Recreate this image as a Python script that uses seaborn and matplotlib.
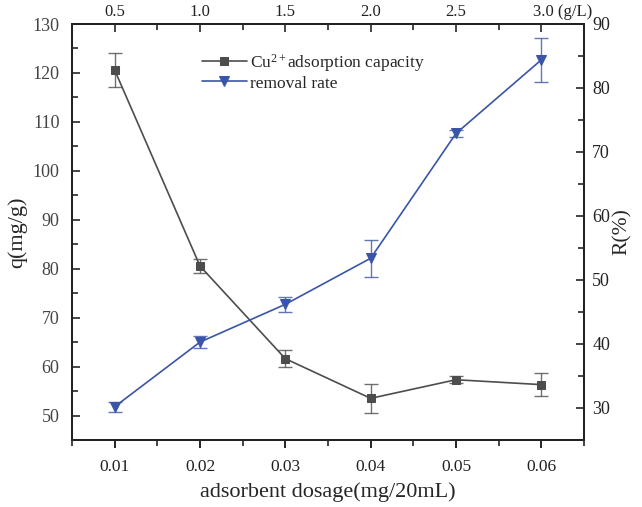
import matplotlib
matplotlib.use("Agg")
import matplotlib.pyplot as plt
import matplotlib.transforms as mtransforms
import seaborn as sns
import pandas as pd
from matplotlib.ticker import MultipleLocator, FixedLocator

dosage = [0.01, 0.02, 0.03, 0.04, 0.05, 0.06]
top_labels = ["0.5", "1.0", "1.5", "2.0", "2.5", "3.0 (g/L)"]
cu_capacity = [120.6, 80.6, 61.7, 53.6, 57.4, 56.4]
cu_err = [3.4, 1.5, 1.7, 2.9, 0.7, 2.3]
removal = [30.2, 40.3, 46.2, 53.4, 72.9, 84.4]
removal_err = [0.8, 0.9, 1.2, 2.9, 0.5, 3.4]

sns.set_theme(style="ticks")
plt.rcParams["font.family"] = ["Liberation Serif", "DejaVu Serif"]
plt.rcParams["mathtext.fontset"] = "custom"
plt.rcParams["mathtext.rm"] = "Liberation Serif"
plt.rcParams["mathtext.it"] = "Liberation Serif:italic"

gray = "#4d4d4d"
blue = "#3a55a8"

df = pd.DataFrame({"dosage": dosage, "q": cu_capacity, "R": removal})

fig = plt.figure(figsize=(6.42, 5.07), dpi=100)
ax = fig.add_axes([72/642, 1-440/507, (584-72)/642, (440-24)/507])
ax2 = ax.twinx()

sns.lineplot(data=df, x="dosage", y="q", ax=ax, color=gray, marker="s",
             markersize=6, markeredgecolor=gray, linewidth=1.2,
             label="Cu$^{2+}$adsorption capacity", legend=False)
ax.errorbar(dosage, cu_capacity, yerr=cu_err, fmt="none", ecolor=gray,
            elinewidth=1.0, capsize=5, capthick=1.0, alpha=0.8)

sns.lineplot(data=df, x="dosage", y="R", ax=ax2, color=blue, marker="v",
             markersize=7, markeredgecolor=blue, linewidth=1.2,
             label="removal rate", legend=False)
ax2.errorbar(dosage, removal, yerr=removal_err, fmt="none", ecolor=blue,
             elinewidth=1.0, capsize=5, capthick=1.0, alpha=0.8)

ax.set_xlim(0.005, 0.065)
ax.set_ylim(45.1, 130)
ax2.set_ylim(25, 90)

ax.xaxis.set_major_locator(FixedLocator(dosage))
ax.xaxis.set_minor_locator(FixedLocator([0.005, 0.015, 0.025, 0.035, 0.045, 0.055, 0.065]))
ax.set_xticklabels([f"{d:.2f}" for d in dosage])
ax.yaxis.set_major_locator(MultipleLocator(10))
ax.yaxis.set_minor_locator(MultipleLocator(5))
ax2.yaxis.set_major_locator(MultipleLocator(10))
ax2.yaxis.set_minor_locator(MultipleLocator(5))

ax.set_xlabel("adsorbent dosage(mg/20mL)", fontsize=16, labelpad=5)
ax.set_ylabel("q(mg/g)", fontsize=16, labelpad=4)
ax2.set_ylabel("R(%)", fontsize=15.5, labelpad=2)

for a in (ax, ax2):
    for s in a.spines.values():
        s.set_linewidth(1.3)
        s.set_color("black")
        s.set_visible(True)

ax.tick_params(axis="x", which="major", direction="out", length=6, width=1.2,
               labelsize=12.5, colors="black", labelcolor="#222222", pad=8)
ax.tick_params(axis="x", which="minor", direction="out", length=4, width=1.2)
ax.tick_params(axis="y", which="major", direction="in", length=6, width=1.2,
               labelsize=13, labelcolor="#444444", pad=9)
ax.tick_params(axis="y", which="minor", direction="in", length=4, width=1.2)
ax2.tick_params(axis="y", which="major", direction="in", length=6, width=1.2,
                labelsize=13, labelcolor="#222222", pad=6)
ax2.tick_params(axis="y", which="minor", direction="in", length=4, width=1.2)

# top secondary axis (g/L)
axt = ax.twiny()
axt.set_xlim(ax.get_xlim())
axt.xaxis.set_major_locator(FixedLocator(dosage))
axt.xaxis.set_minor_locator(FixedLocator([0.015, 0.025, 0.035, 0.045, 0.055]))
axt.set_xticklabels(top_labels)
axt.tick_params(axis="x", which="major", direction="in", length=6, width=1.2,
                labelsize=12, pad=3, labelcolor="#222222")
axt.tick_params(axis="x", which="minor", direction="in", length=4, width=1.2)
last = axt.get_xticklabels()[-1]
last.set_horizontalalignment("left")
last.set_transform(last.get_transform() + mtransforms.ScaledTranslation(-8/100, 0, fig.dpi_scale_trans))
for s in axt.spines.values():
    s.set_linewidth(1.3)

h1, l1 = ax.get_legend_handles_labels()
h2, l2 = ax2.get_legend_handles_labels()
axt.legend(h1 + h2, l1 + l2, loc="upper left", bbox_to_anchor=(0.24, 0.95),
           frameon=False, fontsize=12.5, handlelength=2.6, handletextpad=0.2,
           labelspacing=0.1, borderaxespad=0)

fig.savefig("out.png", dpi=100)
